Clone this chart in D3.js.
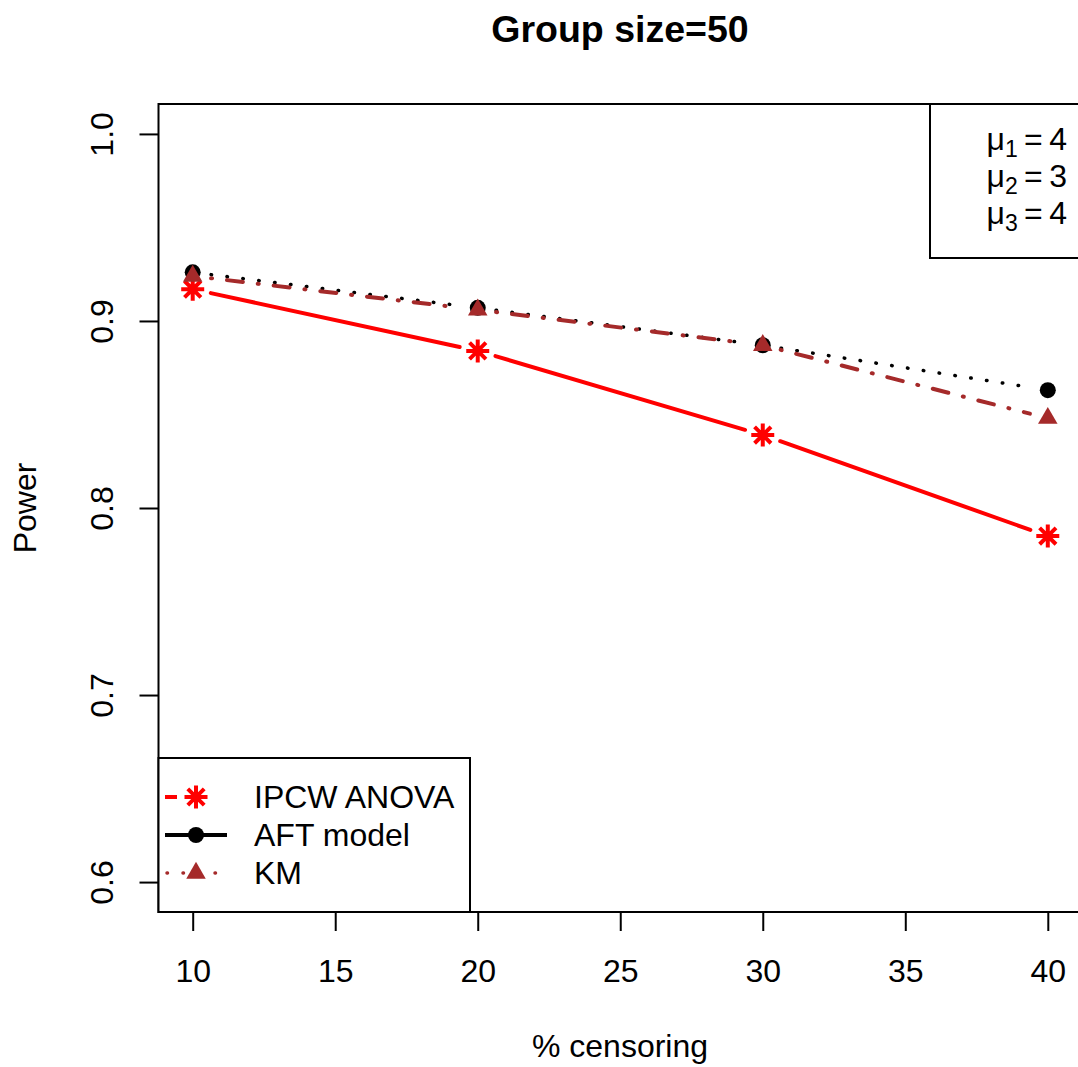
<!DOCTYPE html>
<html lang="en">
<head>
<meta charset="UTF-8">
<title>Group size=50</title>
<script src="https://d3js.org/d3.v7.min.js"></script>
<style>
  body { margin: 0; background: #fff; }
  svg { display: block; font-family: "Liberation Sans", Arial, sans-serif; }
</style>
</head>
<body>
<svg width="1078" height="1067"></svg>
<script>
// data
const censoring = [10, 20, 30, 40];
const ipcwPower = [0.917, 0.884, 0.839, 0.785];
const aftPower = [0.926, 0.907, 0.887, 0.863];
const kmPower = [0.924, 0.906, 0.887, 0.848];
const xTicks = [10, 15, 20, 25, 30, 35, 40];
const yTicks = [0.6, 0.7, 0.8, 0.9, 1.0];
const seriesNames = ["IPCW ANOVA", "AFT model", "KM"];
const muIndex = ["1", "2", "3"];
const muValues = [4, 3, 4];

const svg = d3.select("svg");

// plot region (R adds 4% to each side of the data range)
const pLeft = 158.5, pRight = 1082, pTop = 104, pBottom = 912;
const x = d3.scaleLinear().domain([8.8, 41.2]).range([pLeft, pRight]);
const y = d3.scaleLinear().domain([0.584, 1.016]).range([pBottom, pTop]);

// title + axis titles
svg.append("text").attr("x", 620).attr("y", 42).attr("text-anchor", "middle")
  .attr("font-size", 37.5).attr("font-weight", "bold").text("Group size=50");
svg.append("text").attr("x", 620).attr("y", 1057).attr("text-anchor", "middle")
  .attr("font-size", 32).text("% censoring");
svg.append("text").attr("transform", "translate(36,508) rotate(-90)")
  .attr("text-anchor", "middle").attr("font-size", 32).text("Power");

// axes
const xAxis = svg.append("g").attr("transform", `translate(0,${pBottom})`)
  .call(d3.axisBottom(x).tickValues(xTicks).tickSize(19).tickSizeOuter(0).tickPadding(28));
const yAxis = svg.append("g").attr("transform", `translate(${pLeft},0)`)
  .call(d3.axisLeft(y).tickValues(yTicks).tickSize(19).tickSizeOuter(0)
    .tickFormat(d3.format(".1f")));
yAxis.selectAll("text").attr("x", 0).attr("y", -46).attr("dy", 0)
  .attr("transform", "rotate(-90)").attr("text-anchor", "middle");
[xAxis, yAxis].forEach(a => {
  a.attr("font-family", null).attr("font-size", 32);
  a.selectAll("text").attr("fill", "#000");
  a.selectAll("line").attr("stroke", "#000").attr("stroke-width", 2);
  a.select(".domain").remove();
});

// plot box
svg.append("rect").attr("x", pLeft).attr("y", pTop)
  .attr("width", pRight - pLeft).attr("height", pBottom - pTop)
  .attr("fill", "none").attr("stroke", "#000").attr("stroke-width", 2);

// markers
function asterisk(g, cx, cy, color) {
  const p = 11.5, c = 8.2;
  g.append("path")
    .attr("d", `M${cx - p},${cy}L${cx + p},${cy}M${cx},${cy - p}L${cx},${cy + p}` +
      `M${cx - c},${cy - c}L${cx + c},${cy + c}M${cx - c},${cy + c}L${cx + c},${cy - c}`)
    .attr("stroke", color).attr("stroke-width", 4).attr("fill", "none");
}
function dot(g, cx, cy, color) {
  g.append("circle").attr("cx", cx).attr("cy", cy).attr("r", 8).attr("fill", color);
}
function tri(g, cx, cy, color) {
  g.append("path").attr("d", d3.symbol(d3.symbolTriangle, 165)())
    .attr("transform", `translate(${cx},${cy})`).attr("fill", color);
}

const series = [
  { name: seriesNames[0], values: ipcwPower, color: "#ff0000", dash: null, width: 4, mark: asterisk },
  { name: seriesNames[1], values: aftPower, color: "#000000", dash: "0.5 15.5", width: 3.5, mark: dot },
  { name: seriesNames[2], values: kmPower, color: "#a52a2a", dash: "1 15 16 15", width: 4, mark: tri }
];

// type "b": line segments with gaps round the points
const gap = 18.5;
series.forEach(s => {
  const g = svg.append("g");
  const pts = censoring.map((c, i) => [x(c), y(s.values[i])]);
  for (let i = 0; i < pts.length - 1; i++) {
    const [x1, y1] = pts[i], [x2, y2] = pts[i + 1];
    const len = Math.hypot(x2 - x1, y2 - y1);
    const ux = (x2 - x1) / len, uy = (y2 - y1) / len;
    g.append("line")
      .attr("x1", x1 + ux * gap).attr("y1", y1 + uy * gap)
      .attr("x2", x2 - ux * gap).attr("y2", y2 - uy * gap)
      .attr("stroke", s.color).attr("stroke-width", s.width)
      .attr("stroke-linecap", "round")
      .attr("stroke-dasharray", s.dash);
  }
  pts.forEach(p => s.mark(g, p[0], p[1], s.color));
});

// legend (bottom left)
const leg = svg.append("g");
leg.append("rect").attr("x", pLeft).attr("y", 758).attr("width", 470 - pLeft).attr("height", pBottom - 758)
  .attr("fill", "#fff").attr("stroke", "#000").attr("stroke-width", 2);
const legRows = [797, 835, 873];
const legDash = ["12 80", null, "0.5 15.5"];
const legCap = ["butt", "butt", "round"];
series.forEach((s, i) => {
  const yy = legRows[i];
  leg.append("line").attr("x1", i === 2 ? 167 : 165).attr("x2", 227).attr("y1", yy).attr("y2", yy)
    .attr("stroke", s.color).attr("stroke-width", i === 2 ? 3.5 : 4)
    .attr("stroke-linecap", legCap[i]).attr("stroke-dasharray", legDash[i]);
  s.mark(leg, 196, yy, s.color);
  leg.append("text").attr("x", 254).attr("y", yy + 11).attr("font-size", 32).text(s.name);
});

// mu legend (top right)
const mu = svg.append("g");
mu.append("rect").attr("x", 930).attr("y", pTop).attr("width", 170).attr("height", 258 - pTop)
  .attr("fill", "#fff").attr("stroke", "#000").attr("stroke-width", 2);
const muRows = [150, 187, 224];
muIndex.forEach((k, i) => {
  const t = mu.append("text").attr("x", 1067).attr("y", muRows[i])
    .attr("text-anchor", "end").attr("font-size", 32);
  t.append("tspan").text("\u03bc");
  t.append("tspan").attr("font-size", 23).attr("dy", 7).text(k);
  t.append("tspan").attr("dy", -7).text("\u2009=\u2009" + muValues[i]);
});
</script>
</body>
</html>
